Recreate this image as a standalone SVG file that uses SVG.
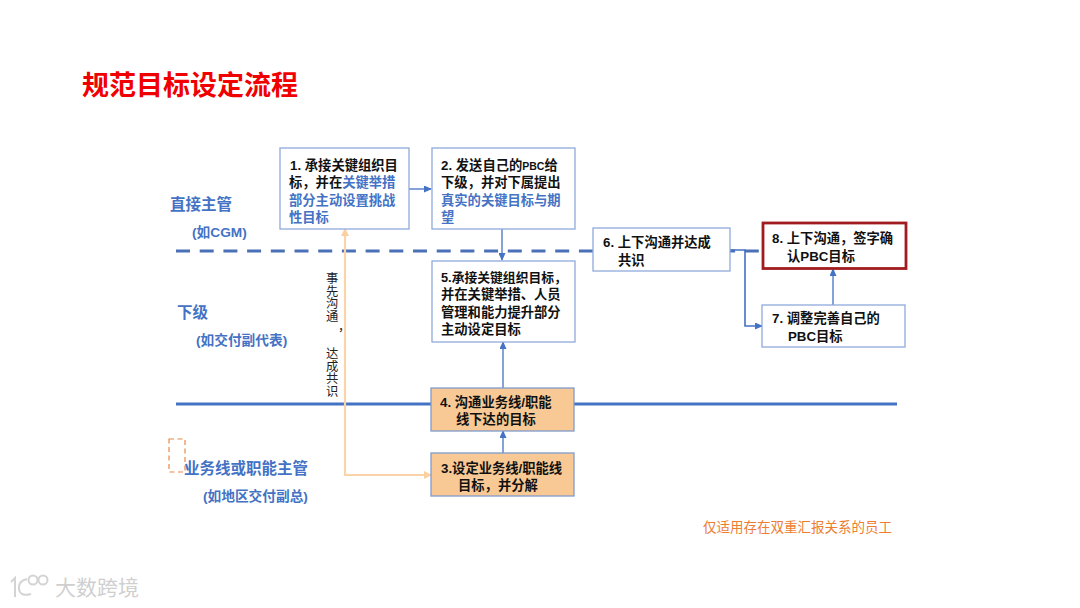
<svg xmlns="http://www.w3.org/2000/svg" width="1080" height="608" viewBox="0 0 1080 608">
<style>
text{font-family:"Liberation Sans","Noto Sans CJK SC",sans-serif}
.b{fill:#fff;stroke:#8faadc;stroke-width:1.3}
.o{fill:#f9c995;stroke:#7f9ccc;stroke-width:1.3}
.t{font-size:13.3px;font-weight:700;fill:#111}
.e{fill:#4472c4}
.l{font-size:15.5px;font-weight:700;fill:#4472c4}
.s{font-size:13.7px;font-weight:700;fill:#4472c4}
.c{fill:none;stroke:#4472c4;stroke-width:1.3}
</style>
<defs>
<marker id="a" markerWidth="8" markerHeight="7" refX="7" refY="3.5" orient="auto" markerUnits="userSpaceOnUse"><path d="M0 0L8 3.5L0 7z" fill="#4472c4"/></marker>
<marker id="p" markerWidth="8" markerHeight="8" refX="7" refY="4" orient="auto-start-reverse" markerUnits="userSpaceOnUse"><path d="M0 0L8 4L0 8z" fill="#fbd0a0"/></marker>
</defs>
<rect width="1080" height="608" fill="#fff"/>
<text x="82" y="95" font-size="27px" font-weight="700" fill="#f00000">规范目标设定流程</text>
<g id="lines">
<path d="M176 251H762" fill="none" stroke="#4a70b8" stroke-width="3" stroke-dasharray="14 9.7"/>
<path d="M176 404H897" fill="none" stroke="#4472c4" stroke-width="3"/>
</g>
<g id="connectors">
<path class="c" d="M409 189H431" marker-end="url(#a)"/>
<path class="c" d="M502 229V260" marker-end="url(#a)"/>
<path class="c" d="M503 388V342" marker-end="url(#a)"/>
<path class="c" d="M503 453V431" marker-end="url(#a)"/>
<path class="c" d="M730 250H745V326H762" style="stroke-width:1.6" marker-end="url(#a)"/>
<path class="c" d="M833 305V269" marker-end="url(#a)"/>
<path d="M345 229V475H431" fill="none" stroke="#fbd3a8" stroke-width="2.200" marker-start="url(#p)" marker-end="url(#p)"/>
</g>
<g id="side-label" font-size="12.300" fill="#222">
<text x="326 326 326 326 338 326 326 326 326" y="283 295.500 308 320.500 331 358 370.500 383 395.500">事先沟通，达成共识</text>
</g>
<g id="n1"><rect class="b" x="280" y="148" width="129" height="81"/>
<text class="t" x="290" y="170">1. 承接关键组织目</text>
<text class="t" x="289" y="187">标，并在<tspan class="e">关键举措</tspan></text>
<text class="t" x="289" y="205" style="fill:#4472c4">部分主动设置挑战</text>
<text class="t" x="289" y="222" style="fill:#4472c4">性目标</text></g>
<g id="n2"><rect class="b" x="432" y="148" width="143" height="81"/>
<text class="t" x="441" y="170">2. 发送自己的<tspan font-size="10.5">PBC</tspan>给</text>
<text class="t" x="441" y="187">下级，并对下属提出</text>
<text class="t" x="441" y="205" style="fill:#4472c4">真实的关键目标与期</text>
<text class="t" x="441" y="222" style="fill:#4472c4">望</text></g>
<g id="n5"><rect class="b" x="432" y="261" width="143" height="81"/>
<text class="t" x="441" y="282" style="font-size:12.8px">5.承接关键组织目标，</text>
<text class="t" x="441" y="299">并在关键举措、人员</text>
<text class="t" x="441" y="317">管理和能力提升部分</text>
<text class="t" x="441" y="334">主动设定目标</text></g>
<g id="n6"><rect class="b" x="593" y="228" width="137" height="43"/>
<text class="t" x="603" y="247">6. 上下沟通并达成</text>
<text class="t" x="618" y="265">共识</text></g>
<g id="n8"><rect x="763" y="223" width="143" height="45.500" fill="#fff" stroke="#a01c20" stroke-width="2.800"/>
<text class="t" x="772" y="243">8. 上下沟通，签字确</text>
<text class="t" x="787" y="261">认PBC目标</text></g>
<g id="n7"><rect class="b" x="762" y="305" width="143" height="42"/>
<text class="t" x="772" y="323">7. 调整完善自己的</text>
<text class="t" x="788" y="341">PBC目标</text></g>
<g id="n4"><rect class="o" x="431" y="388" width="143" height="43"/>
<text class="t" x="440" y="407">4. 沟通业务线/职能</text>
<text class="t" x="456" y="424">线下达的目标</text></g>
<g id="n3"><rect class="o" x="431" y="453" width="143" height="43"/>
<text class="t" x="441" y="473">3.设定业务线/职能线</text>
<text class="t" x="458" y="490">目标，并分解</text></g>
<g id="labels">
<text class="l" x="170" y="210">直接主管</text>
<text class="s" x="192" y="237">(如CGM)</text>
<text class="l" x="177" y="318">下级</text>
<text class="s" x="196" y="345">(如交付副代表)</text>
<rect x="169" y="439" width="16" height="33" fill="none" stroke="#e8894a" stroke-width="1.200" stroke-dasharray="5 3.500"/>
<text class="l" x="184" y="474">业务线或职能主管</text>
<text class="s" x="203" y="501">(如地区交付副总)</text>
<text x="703" y="532" font-size="13.500" fill="#ed7d31">仅适用存在双重汇报关系的员工</text>
</g>
<g id="watermark" fill="none" stroke="#d4d4d4" stroke-width="2">
<path d="M11 582L15 578V597M27 579Q18 581 19 589Q20 597 31 594"/>
<circle cx="33" cy="580" r="4.500"/><circle cx="43" cy="580" r="4.500"/>
<text x="55" y="595" font-size="21" fill="#cfcfcf" stroke="none" font-weight="400">大数跨境</text>
</g>
</svg>
